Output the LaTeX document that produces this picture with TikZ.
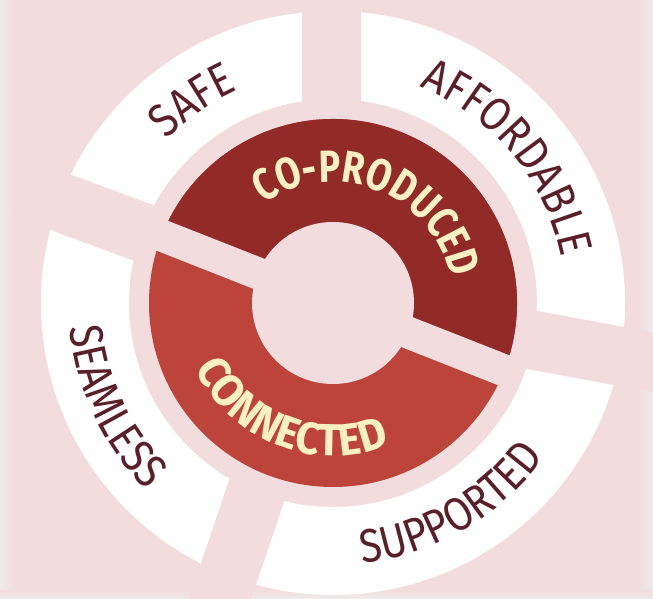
\documentclass[tikz,border=0pt]{standalone}
\usepackage{fontspec}
\usetikzlibrary{decorations.text,calc}
\newfontfamily\ringfont[FakeStretch=0.86]{Fira Sans}
\newfontfamily\corefont[FakeStretch=0.8]{Fira Sans}
\newfontfamily\corewidefont[FakeStretch=0.95]{Fira Sans}
\definecolor{bgpink}{HTML}{F2DCDE}
\definecolor{edgefade}{HTML}{EEEAEB}
\definecolor{darkred}{HTML}{922A28}
\definecolor{midred}{HTML}{BC443B}
\definecolor{maroon}{HTML}{5A1F29}
\definecolor{cream}{HTML}{FBF0C4}
\tikzset{
  gapband/.style={draw=bgpink, line width=59pt, line cap=butt},
  coregap/.style={draw=bgpink, line width=32pt, line cap=butt},
  ringlabel/.style={decorate, decoration={text along path, text align=center,
      text color=maroon, text={|\ringfont\fontsize{47}{47}\selectfont|#1}}},
  corelabel/.style={decorate, decoration={text along path, text align=center,
      text color=cream, text={|\corefont\bfseries\fontsize{45}{45}\selectfont|#1}}},
  corelabelwide/.style={decorate, decoration={text along path, text align=center,
      text color=cream, text={|\corewidefont\bfseries\fontsize{45}{45}\selectfont|#1}}},
}
\begin{document}
\begin{tikzpicture}[x=1pt, y=1pt]
  \useasboundingbox (0,0) rectangle (653,598);
  % background with soft side edges
  \fill[bgpink] (0,0) rectangle (653,598);
  \shade[left color=edgefade, right color=bgpink] (0,0) rectangle (16,598);
  \shade[left color=bgpink, right color=edgefade] (638,0) rectangle (653,598);
  \shade[bottom color=edgefade, top color=bgpink] (0,0) rectangle (653,8);

  \coordinate (c) at (333,295);

  % outer white ring
  \fill[white, even odd rule] (c) circle[radius=292] (c) circle[radius=204];

  % gaps between the outer segments
  \coordinate (gtopA) at (331,295);
  \coordinate (gtopB) at (331,610);
  \coordinate (gleftA) at (c);
  \coordinate (gleftB) at ($(c)+(159.7:330)$);
  \coordinate (grightA) at (c);
  \coordinate (grightB) at ($(c)+(-10.5:330)$);
  \coordinate (gbotA) at (320,295);
  \coordinate (gbotB) at (212,-25);
  \draw[gapband] (gtopA) -- (gtopB);
  \draw[gapband] (gleftA) -- (gleftB);
  \draw[gapband] (grightA) -- (grightB);
  \draw[gapband] (gbotA) -- (gbotB);

  % inner two-part ring
  \fill[midred] (c) circle[radius=184];
  \fill[darkred] ($(c)+(-21.5:184)$) arc[start angle=-21.5, end angle=158.5, radius=184] -- cycle;
  \coordinate (cgA) at ($(c)+(158.5:190)$);
  \coordinate (cgB) at ($(c)+(-21.5:190)$);
  \draw[coregap] (cgA) -- (cgB);
  \fill[bgpink] (c) circle[radius=81];

  % labels on the outer segments
  \path[shift={(c)}, ringlabel={SAFE}] (159.5:233) arc[start angle=159.5, end angle=90, radius=233];
  \path[shift={(c)}, ringlabel={AFFORDABLE}] (90:233) arc[start angle=90, end angle=-10.5, radius=233];
  \path[shift={(c)}, ringlabel={SEAMLESS}] (159.5:264) arc[start angle=159.5, end angle=251, radius=264];
  \path[shift={(c)}, ringlabel={SUPPORTED}] (251:262) arc[start angle=251, end angle=349.5, radius=262];

  % labels on the inner ring
  \path[shift={(c)}, corelabel={CO-PRODUCED}] (158.5:121) arc[start angle=158.5, end angle=-21.5, radius=121];
  \path[shift={(c)}, corelabelwide={CONNECTED}] (158.5:153) arc[start angle=158.5, end angle=338.5, radius=153];
\end{tikzpicture}
\end{document}
